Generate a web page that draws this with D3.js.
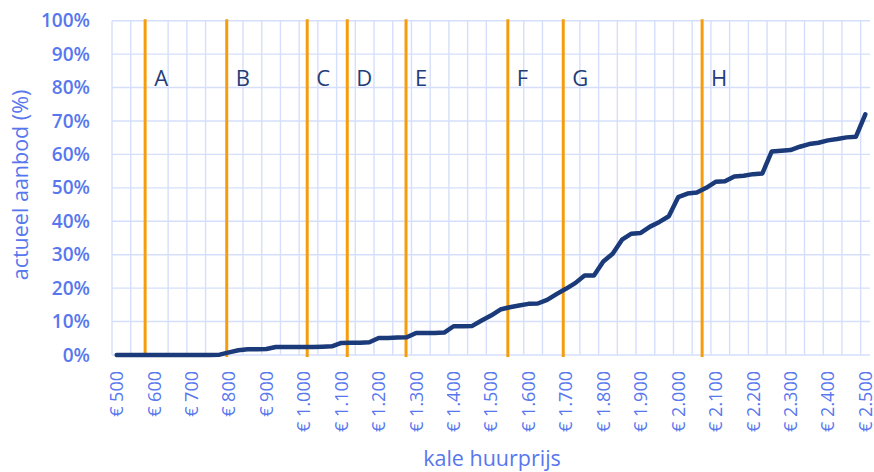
<!DOCTYPE html>
<html>
<head>
<meta charset="utf-8">
<script src="https://cdn.jsdelivr.net/npm/d3@7/dist/d3.min.js"></script>
<style>
  html, body { margin: 0; padding: 0; background: #ffffff; }
  svg { display: block; }
</style>
</head>
<body>
<svg id="chart" width="874" height="472"></svg>
<script>
// ---- data ----
const prices = d3.range(500, 2501, 25); // kale huurprijs categories (€)
const supplyPct = [
  0, 0, 0, 0, 0, 0, 0, 0, 0, 0, 0, 0.1,
  0.8, 1.4, 1.7, 1.7, 1.8,
  2.4, 2.4, 2.4, 2.4, 2.4, 2.5, 2.6,
  3.6, 3.7, 3.7, 3.8,
  5.1, 5.1, 5.2, 5.3,
  6.6, 6.6, 6.6, 6.7,
  8.6, 8.6, 8.7,
  10.3, 11.8, 13.6, 14.3, 14.8, 15.3, 15.4, 16.5, 18.2, 19.8, 21.5,
  23.8, 23.8, 28.0, 30.3, 34.5, 36.3, 36.5, 38.4, 39.8, 41.5,
  47.2, 48.3, 48.6, 50.0, 51.8, 52.0, 53.4, 53.6, 54.1, 54.3,
  60.9, 61.1, 61.3, 62.3, 63.1, 63.5, 64.2, 64.6, 65.1, 65.3,
  72.0
];
const xTickValues = d3.range(500, 2501, 100);
const yTickValues = [0, 10, 20, 30, 40, 50, 60, 70, 80, 90, 100];
const markerLabels = ["A", "B", "C", "D", "E", "F", "G", "H"];
const markerPrices = [576, 794, 1009, 1116, 1273, 1545, 1693, 2064];
const xTitle = "kale huurprijs";
const yTitle = "actueel aanbod (%)";

// ---- layout ----
const svg = d3.select("#chart");
const plot = { left: 112, right: 870, top: 20.7, bottom: 355 };
const step = 25;

const x = d3.scaleLinear()
  .domain([prices[0] - step / 2, prices[prices.length - 1] + step / 2])
  .range([plot.left, plot.right]);
const y = d3.scaleLinear().domain([0, 100]).range([plot.bottom, plot.top]);

const tickColor = "#5877ee";
const gridColor = "#d5dffb";
const font = "'Open Sans', 'Liberation Sans', sans-serif";

// vertical gridlines at every second category boundary
const boundaries = d3.range(0, prices.length, 2).map(i => prices[0] - step / 2 + i * step);
const markerX = markerPrices.map(p => x(p));
svg.append("g").selectAll("line")
  .data(boundaries.filter(b => d3.min(markerX, mx => Math.abs(mx - x(b))) > 5))
  .join("line")
  .attr("x1", d => x(d)).attr("x2", d => x(d))
  .attr("y1", plot.top).attr("y2", plot.bottom)
  .attr("stroke", gridColor).attr("stroke-width", 1.4);

// horizontal gridlines
svg.append("g").selectAll("line")
  .data(yTickValues)
  .join("line")
  .attr("x1", plot.left).attr("x2", plot.right)
  .attr("y1", d => y(d)).attr("y2", d => y(d))
  .attr("stroke", gridColor).attr("stroke-width", 1.4);

// y axis labels
const yAxis = d3.axisLeft(y).tickValues(yTickValues).tickFormat(d => d + "%").tickSize(0).tickPadding(0);
const gy = svg.append("g").attr("transform", `translate(${plot.left - 22},0)`).call(yAxis);
gy.select(".domain").remove();
gy.selectAll("text")
  .attr("fill", tickColor).attr("font-size", 19).attr("font-family", font).attr("font-weight", 600);

// x axis labels (rotated)
const fmt = v => "€ " + d3.format(",")(v).replace(/,/g, ".");
svg.append("g").selectAll("text")
  .data(xTickValues)
  .join("text")
  .attr("transform", d => `translate(${x(d)},${plot.bottom + 16}) rotate(-90)`)
  .attr("text-anchor", "end")
  .attr("dy", "0.36em")
  .attr("fill", tickColor).attr("font-size", 18).attr("font-family", font)
  .text(fmt);

// orange marker lines
svg.append("g").selectAll("line")
  .data(markerPrices)
  .join("line")
  .attr("x1", d => x(d)).attr("x2", d => x(d))
  .attr("y1", plot.top - 1.5).attr("y2", plot.bottom + 2)
  .attr("stroke", "#f59d0c").attr("stroke-width", 3);

// marker letters
svg.append("g").selectAll("text")
  .data(markerPrices)
  .join("text")
  .attr("x", d => x(d) + 9)
  .attr("y", 86)
  .attr("fill", "#233c7a").attr("font-size", 22).attr("font-family", font)
  .text((d, i) => markerLabels[i]);

// data line
const line = d3.line()
  .x((d, i) => x(prices[i]))
  .y(d => y(d));
svg.append("path")
  .datum(supplyPct)
  .attr("d", line)
  .attr("fill", "none")
  .attr("stroke", "#1b3a7a")
  .attr("stroke-width", 4.5)
  .attr("stroke-linejoin", "round")
  .attr("stroke-linecap", "round");

// axis titles
svg.append("text")
  .attr("x", (plot.left + plot.right) / 2 + 1)
  .attr("y", 466)
  .attr("text-anchor", "middle")
  .attr("fill", tickColor).attr("font-size", 21.5).attr("font-family", font)
  .text(xTitle);

svg.append("text")
  .attr("transform", `translate(28,185) rotate(-90)`)
  .attr("text-anchor", "middle")
  .attr("fill", tickColor).attr("font-size", 21.5).attr("font-family", font)
  .text(yTitle);
</script>
</body>
</html>
